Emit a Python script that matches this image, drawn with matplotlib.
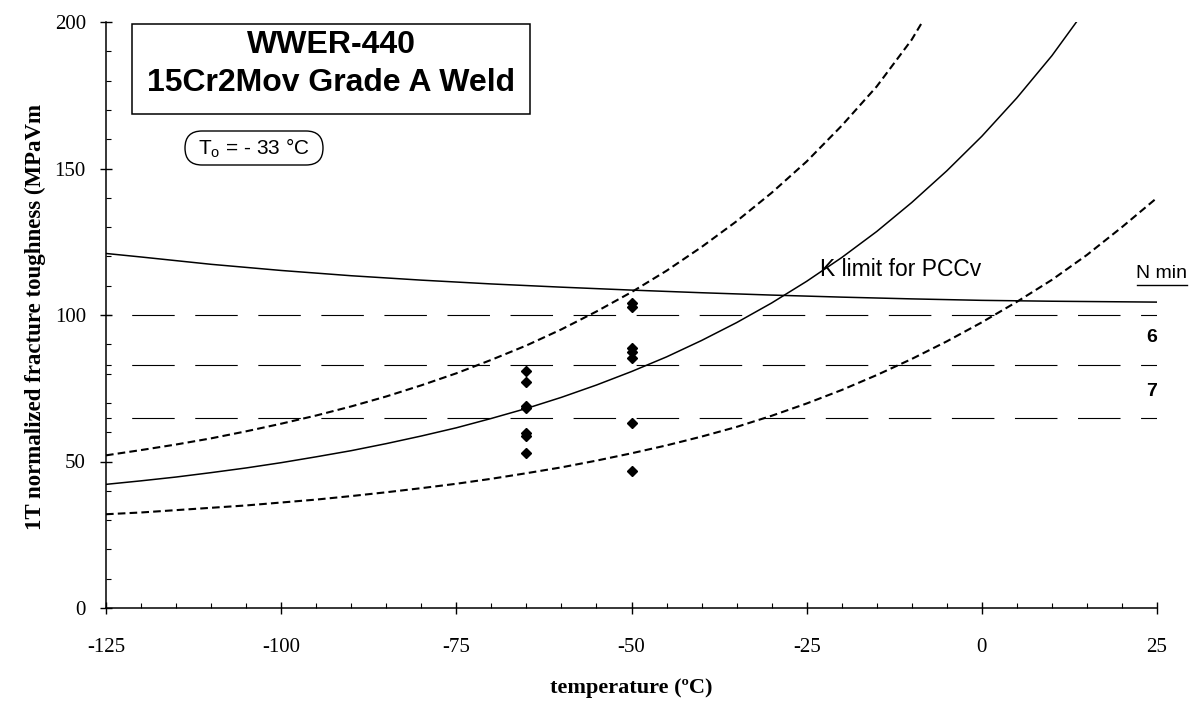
import numpy as np
import matplotlib
matplotlib.use("Agg")
import matplotlib.pyplot as plt
from matplotlib.patches import Rectangle, FancyBboxPatch
from matplotlib.lines import Line2D
from matplotlib.ticker import MultipleLocator

plt.rcParams['lines.scale_dashes'] = False
plt.rcParams['axes.unicode_minus'] = False
plt.rcParams['mathtext.fontset'] = 'custom'
plt.rcParams['mathtext.rm'] = 'Liberation Sans'
plt.rcParams['mathtext.bf'] = 'Liberation Sans:bold'

# --- data ---
temp_median = [-125, -120, -115, -110, -105, -100, -95, -90, -85, -80, -75, -70, -65, -60,
               -55, -50, -45, -40, -35, -30, -25, -20, -15, -10, -5, 0, 5, 10, 13.5]
k_median = [42.2, 43.4, 44.7, 46.2, 47.8, 49.6, 51.6, 53.7, 56.1, 58.7, 61.5, 64.7, 68.1, 71.9,
            76.1, 80.7, 85.7, 91.3, 97.4, 104.1, 111.5, 119.6, 128.5, 138.4, 149.2, 161.0, 174.1, 188.5, 200]

temp_upper = [-125, -120, -115, -110, -105, -100, -95, -90, -85, -80, -75, -70, -65, -60,
              -55, -50, -45, -40, -35, -30, -25, -20, -15, -10, -8.5]
k_upper = [52.1, 53.9, 55.8, 57.9, 60.3, 62.9, 65.7, 68.8, 72.2, 76.0, 80.1, 84.7, 89.6, 95.1,
           101.2, 107.8, 115.1, 123.2, 132.0, 141.7, 152.4, 164.6, 178.0, 194.0, 200]

temp_lower = [-125, -120, -115, -110, -105, -100, -95, -90, -85, -80, -75, -70, -65, -60,
              -55, -50, -45, -40, -35, -30, -25, -20, -15, -10, -5, 0, 5, 10, 15, 20, 25]
k_lower = [32.0, 32.6, 33.4, 34.2, 35.0, 36.0, 37.0, 38.2, 39.5, 40.9, 42.4, 44.1, 46.0, 48.0,
           50.3, 52.8, 55.5, 58.5, 61.8, 65.6, 69.8, 74.4, 79.5, 85.0, 91.0, 97.5, 104.5, 112.0, 120.5, 130.0, 140.0]

temp_klimit = [-125, -120, -110, -100, -90, -80, -70, -60, -50, -40, -30, -20, -10, 0, 10, 25]
k_klimit = [121.0, 119.8, 117.3, 115.2, 113.4, 111.9, 110.6, 109.5, 108.5, 107.6, 106.8,
            106.1, 105.5, 105.0, 104.7, 104.4]

temp_points = [-65, -65, -65, -65, -65, -65, -65, -50, -50, -50, -50, -50, -50, -50]
k_points = [81.0, 77.1, 68.9, 68.2, 59.6, 58.7, 52.8, 104.0, 102.7, 88.6, 87.5, 85.2, 63.0, 46.9]

n_levels = [100, 83, 65]
n_labels = ["6", "7"]
n_label_k = [92.2, 73.8]

# --- figure ---
fig = plt.figure(figsize=(11.92, 7.02), dpi=100)
ax = fig.add_axes([106 / 1192, 94 / 702, 1051 / 1192, 586 / 702])
inch = fig.dpi_scale_trans

for lev in n_levels:
    ax.plot([-125, 25], [lev, lev], color='black', lw=0.8,
            linestyle=(26.9, (30.6, 14.8)))

ax.plot(temp_klimit, k_klimit, color='black', lw=1.1)
ax.plot(temp_median, k_median, color='black', lw=1.1)
ax.plot(temp_upper, k_upper, color='black', lw=1.5, linestyle=(0, (5.5, 3.0)))
ax.plot(temp_lower, k_lower, color='black', lw=1.5, linestyle=(0, (5.5, 3.0)))
ax.plot(temp_points, k_points, 'D', color='black', markersize=5)

ax.set_xlim(-125, 25)
ax.set_ylim(0, 200)
ax.spines['top'].set_visible(False)
ax.spines['right'].set_visible(False)
for s in ('left', 'bottom'):
    ax.spines[s].set_linewidth(1.1)

ax.xaxis.set_major_locator(MultipleLocator(25))
ax.xaxis.set_minor_locator(MultipleLocator(5))
ax.yaxis.set_major_locator(MultipleLocator(50))
ax.yaxis.set_minor_locator(MultipleLocator(10))
ax.tick_params(axis='x', which='major', direction='inout', length=9, width=1.0, pad=17,
               labelsize=15)
ax.tick_params(axis='y', which='major', direction='inout', length=9, width=1.0, pad=10,
               labelsize=15)
ax.tick_params(which='minor', direction='in', length=3.5, width=0.8)
for lab in ax.get_xticklabels() + ax.get_yticklabels():
    lab.set_fontfamily('Liberation Serif')

ax.set_xlabel("temperature (ºC)", fontfamily='Liberation Serif', fontweight='bold',
              fontsize=16, va='center')
ax.xaxis.set_label_coords(0.5, -0.137)
ax.set_ylabel("1T normalized fracture toughness (MPaVm", fontfamily='Liberation Serif',
              fontweight='bold', fontsize=16.5, va='center')
ax.yaxis.set_label_coords(-0.0676, 0.497)

# title box
fig.patches.append(Rectangle((1.32, 5.88), 3.98, 0.90, transform=inch,
                             fill=False, edgecolor='black', lw=1.1))
fig.text(3.31, 7.02 - 0.45, "WWER-440", transform=inch, fontfamily='Liberation Sans',
         fontweight='bold', fontsize=23, ha='center', va='center')
fig.text(3.31, 7.02 - 0.83, "15Cr2Mov Grade A Weld", transform=inch,
         fontfamily='Liberation Sans', fontweight='bold', fontsize=23, ha='center', va='center')

# T0 box
fig.patches.append(FancyBboxPatch((1.85, 5.37), 1.38, 0.34, transform=inch,
                                  boxstyle="round,pad=0,rounding_size=0.17",
                                  fill=False, edgecolor='black', lw=1.0))
fig.text(2.54, 7.02 - 1.48, r"T$_\mathrm{o}$ = - 33 °C", transform=inch,
         fontfamily='Liberation Sans', fontsize=15, ha='center', va='center')

ax.text(-23.1, 115.4, "K limit for PCCv", fontfamily='Liberation Sans', fontsize=16.5,
        ha='left', va='center')
ax.text(25.7, 114.3, "N min", fontfamily='Liberation Sans', fontsize=14, ha='center',
        va='center', clip_on=False)
fig.lines.append(Line2D([11.37, 11.87], [7.02 - 2.85, 7.02 - 2.85], color='black', lw=1.0,
                        transform=inch))
for lab, kv in zip(n_labels, n_label_k):
    ax.text(25.0, kv, lab, fontfamily='Liberation Sans', fontweight='bold', fontsize=14,
            ha='right', va='center', clip_on=False)

fig.savefig("out.png", dpi=100)
